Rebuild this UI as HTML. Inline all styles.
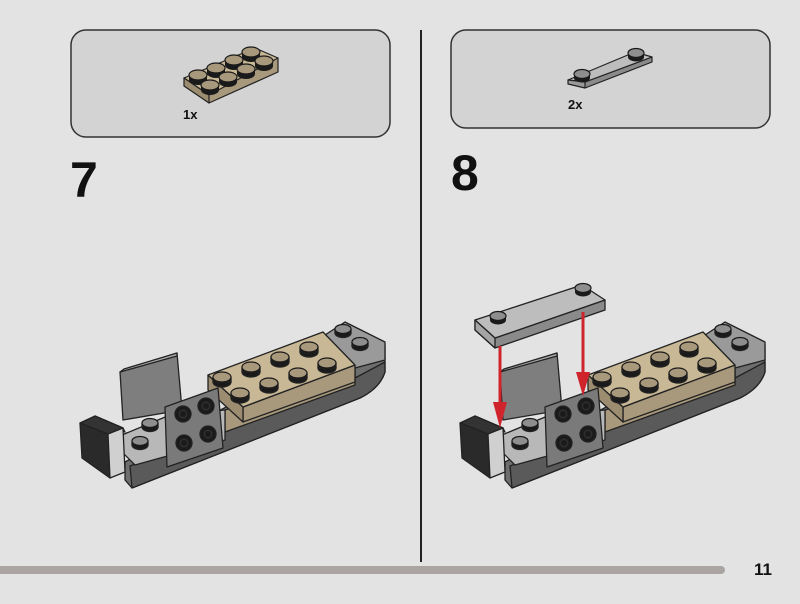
<!DOCTYPE html>
<html><head><meta charset="utf-8"><style>
html,body{margin:0;padding:0;background:#e3e3e3;}
svg{display:block;}
text{font-family:"Liberation Sans",sans-serif;font-weight:bold;fill:#111;}
</style></head><body>
<svg width="800" height="604" viewBox="0 0 800 604" xmlns="http://www.w3.org/2000/svg">
<defs>
<g id="stud"><ellipse cx="0" cy="4" rx="9" ry="5" fill="#1a1a1a"/><rect x="-9" y="-1" width="18" height="5" fill="#1a1a1a"/><ellipse cx="0" cy="-1" rx="9" ry="5" fill="#a8987c" stroke="#1a1a1a" stroke-width="1.2"/></g>
<g id="gstud"><ellipse cx="0" cy="3" rx="8" ry="4.5" fill="#1a1a1a"/><rect x="-8" y="-1" width="16" height="4" fill="#1a1a1a"/><ellipse cx="0" cy="-1" rx="8" ry="4.5" fill="#8e8e8e" stroke="#1a1a1a" stroke-width="1.2"/></g>
<g id="hole"><circle r="8" fill="#1a1a1a"/><circle r="4.5" fill="#555"/><circle r="3" fill="#1a1a1a"/></g>
<g id="model" stroke="#222" stroke-width="1.3" stroke-linejoin="round">
  <path d="M125,462 L340,345 L385,345 L385,372 Q380,388 360,398 L132,488 L125,480 Z" fill="#6e6e6e"/>
  <path d="M130,466 L355,378 L385,362 L385,372 Q380,388 360,398 L132,488 Z" fill="#5a5a5a"/>
  <polygon points="325,335 345,322 385,342 385,360 355,368" fill="#9a9a9a"/>
  <use href="#gstud" x="343" y="330"/><use href="#gstud" x="360" y="343"/>
  <polygon points="225,410 355,368 355,385 225,432" fill="#a8987c"/>
  <polygon points="110,440 170,415 225,410 225,440 135,465" fill="#b8b8b8"/>
  <polygon points="120,372 177,353 182,410 123,420" fill="#7e7e7e"/>
  <polygon points="120,372 124,369 177,353 177,356" fill="#aaa"/>
  <use href="#gstud" x="150" y="424"/><use href="#gstud" x="140" y="442"/><use href="#gstud" x="190" y="415"/>
  <polygon points="243,407 355,365 355,382 243,422" fill="#a8987c"/>
  <polygon points="208,375 243,407 243,422 208,390" fill="#9c8c70"/>
  <polygon points="208,375 323,332 355,365 243,407" fill="#c8b896"/>
  <use href="#stud" x="222" y="378"/><use href="#stud" x="251" y="368"/><use href="#stud" x="280" y="358"/><use href="#stud" x="309" y="348"/>
  <use href="#stud" x="240" y="394"/><use href="#stud" x="269" y="384"/><use href="#stud" x="298" y="374"/><use href="#stud" x="327" y="364"/>
  <polygon points="165,407 218,388 223,448 167,467" fill="#7a7a7a"/>
  <use href="#hole" x="183" y="414"/><use href="#hole" x="206" y="406"/><use href="#hole" x="184" y="443"/><use href="#hole" x="208" y="434"/>
  <polygon points="95,416 123,428 125,432 97,420" fill="#ddd"/>
  <polygon points="80,423 95,416 123,428 108,434" fill="#333"/>
  <polygon points="80,423 108,434 110,478 82,458" fill="#2a2a2a"/>
  <polygon points="108,434 123,428 125,472 110,478" fill="#d0d0d0"/>
</g>
</defs>

<rect x="71" y="30" width="319" height="107" rx="15" fill="#d3d3d3" stroke="#333" stroke-width="1.5"/>
<rect x="451" y="30" width="319" height="98" rx="15" fill="#d3d3d3" stroke="#333" stroke-width="1.5"/>
<line x1="421" y1="30" x2="421" y2="562" stroke="#222" stroke-width="2"/>

<g stroke="#222" stroke-width="1.2" stroke-linejoin="round">
  <polygon points="184,78 209,103 278,72 278,58" fill="#a8987c"/>
  <polygon points="184,78 255,48 278,58 209,95" fill="#c8b896"/>
  <polygon points="184,78 209,95 209,103 184,86" fill="#9c8c70"/>
</g>
<use href="#stud" x="198" y="76"/>
<use href="#stud" x="216" y="69"/><use href="#stud" x="234" y="61"/><use href="#stud" x="251" y="53"/>
<use href="#stud" x="210" y="86"/><use href="#stud" x="228" y="78"/><use href="#stud" x="246" y="70"/><use href="#stud" x="264" y="62"/>
<text x="183" y="119" font-size="13">1x</text>

<g stroke="#222" stroke-width="1.2" stroke-linejoin="round">
  <polygon points="568,80 585,88 652,62 652,57 585,82" fill="#8a8a8a"/>
  <polygon points="568,80 635,52 652,57 585,82" fill="#bdbdbd"/>
  <polygon points="568,80 585,82 585,88 568,84" fill="#999"/>
</g>
<use href="#gstud" x="582" y="75"/><use href="#gstud" x="636" y="54"/>
<text x="568" y="109" font-size="13">2x</text>

<text x="70" y="197" font-size="50">7</text>
<text x="451" y="190" font-size="50">8</text>

<use href="#model"/>
<use href="#model" x="380"/>

<g stroke="#222" stroke-width="1.3" stroke-linejoin="round">
  <polygon points="475,320 495,338 605,300 605,310 495,348 475,330" fill="#8a8a8a"/>
  <polygon points="475,320 582,285 605,300 495,338" fill="#bdbdbd"/>
  <polygon points="475,320 495,338 495,348 475,330" fill="#a5a5a5"/>
</g>
<use href="#gstud" x="498" y="317"/><use href="#gstud" x="583" y="289"/>

<g fill="#d0242c" stroke="none">
  <rect x="498.5" y="346" width="3" height="64"/>
  <polygon points="493,402 507,402 500,428"/>
  <rect x="581.5" y="312" width="3" height="66"/>
  <polygon points="576,372 590,372 583,396"/>
</g>

<rect x="-10" y="566" width="735" height="8" rx="4" fill="#aaa5a2"/>
<text x="754" y="575" font-size="17">11</text>
</svg>
</body></html>
